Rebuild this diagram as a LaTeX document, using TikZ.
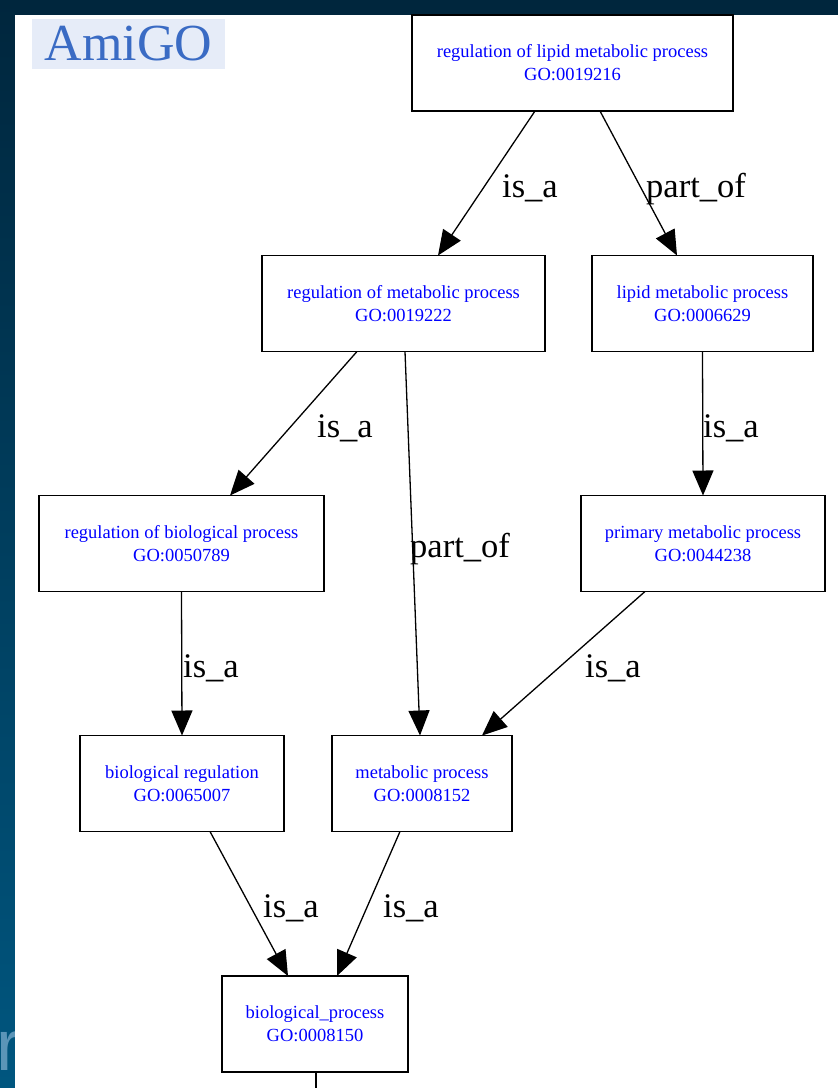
\documentclass[tikz,border=0pt]{standalone}
\usepackage{fontspec}
\setmainfont{Liberation Serif}
\newfontfamily\stripfont{Liberation Sans}
\usetikzlibrary{arrows.meta}
\definecolor{navy}{HTML}{00263D}
\definecolor{strip}{HTML}{00567F}
\definecolor{stripr}{HTML}{5B95B8}
\definecolor{logobg}{HTML}{E6ECF8}
\definecolor{logoblue}{HTML}{3A6BC4}
\tikzset{term/.style={draw,line width=1.5pt,inner sep=0pt,outer sep=0pt,minimum height=96pt,align=center,
  text=blue,font=\fontsize{18.5}{23}\selectfont},
  rel/.style={-{Triangle[length=25pt,width=21pt]},line width=1.3pt},
  lab/.style={anchor=base west,inner sep=0pt,font=\fontsize{34.5}{34.5}\selectfont}}

\begin{document}
\begin{tikzpicture}[x=1pt,y=-1pt]
\useasboundingbox (0,0) rectangle (838,1088);
% slide frame
\fill[navy] (0,0) rectangle (838,15);
\shade[top color=navy,bottom color=strip] (0,0) rectangle (15,1088);
\node[anchor=base west,inner sep=0pt,text=stripr,font=\stripfont\fontsize{72}{72}\selectfont] (cut) at (-4,1070) {r};
\fill[white] (15,15) rectangle (838,1088);
\node[fill=logobg,text=logoblue,font=\fontsize{52}{52}\selectfont,minimum width=193pt,minimum height=50pt,inner sep=0pt] (logo) at (128.5,44) {AmiGO};
% terms
\node[term,minimum width=321pt] (lipreg) at (572.5,63) {regulation of lipid metabolic process\\GO:0019216};
\node[term,minimum width=283pt] (metreg) at (403.5,303.5) {regulation of metabolic process\\GO:0019222};
\node[term,minimum width=221pt] (lipid) at (702.5,303.5) {lipid metabolic process\\GO:0006629};
\node[term,minimum width=285pt] (bioreg) at (181.5,543.5) {regulation of biological process\\GO:0050789};
\node[term,minimum width=244pt] (primary) at (703,543.5) {primary metabolic process\\GO:0044238};
\node[term,minimum width=204pt] (biolreg) at (182,783.5) {biological regulation\\GO:0065007};
\node[term,minimum width=180pt] (metab) at (422,783.5) {metabolic process\\GO:0008152};
\node[term,minimum width=186pt] (bioproc) at (315,1024) {biological\_process\\GO:0008150};
\coordinate (down) at (316,1088);
% relations
\draw[rel] ([xshift=-37.5pt]lipreg.south) -- ([xshift=34.5pt]metreg.north);
\draw[rel] ([xshift=27.5pt]lipreg.south) -- ([xshift=-25.5pt]lipid.north);
\draw[rel] ([xshift=-46.5pt]metreg.south) -- ([xshift=48.5pt]bioreg.north);
\draw[rel] ([xshift=1.5pt]metreg.south) -- ([xshift=-2pt]metab.north);
\draw[rel] (lipid.south) -- (primary.north);
\draw[rel] (bioreg.south) -- (biolreg.north);
\draw[rel] ([xshift=-58pt]primary.south) -- ([xshift=60pt]metab.north);
\draw[rel] ([xshift=28pt]biolreg.south) -- ([xshift=-27pt]bioproc.north);
\draw[rel] ([xshift=-22pt]metab.south) -- ([xshift=22pt]bioproc.north);
\draw[line width=1.3pt] ([xshift=1pt]bioproc.south) -- (down);
\node[lab] (l1) at (502,197) {is\_a};
\node[lab] (l2) at (646,197) {part\_of};
\node[lab] (l3) at (317,437) {is\_a};
\node[lab] (l4) at (410,557) {part\_of};
\node[lab] (l5) at (703,437) {is\_a};
\node[lab] (l6) at (183,677) {is\_a};
\node[lab] (l7) at (585,677) {is\_a};
\node[lab] (l8) at (263,917) {is\_a};
\node[lab] (l9) at (383,917) {is\_a};
\end{tikzpicture}
\end{document}
